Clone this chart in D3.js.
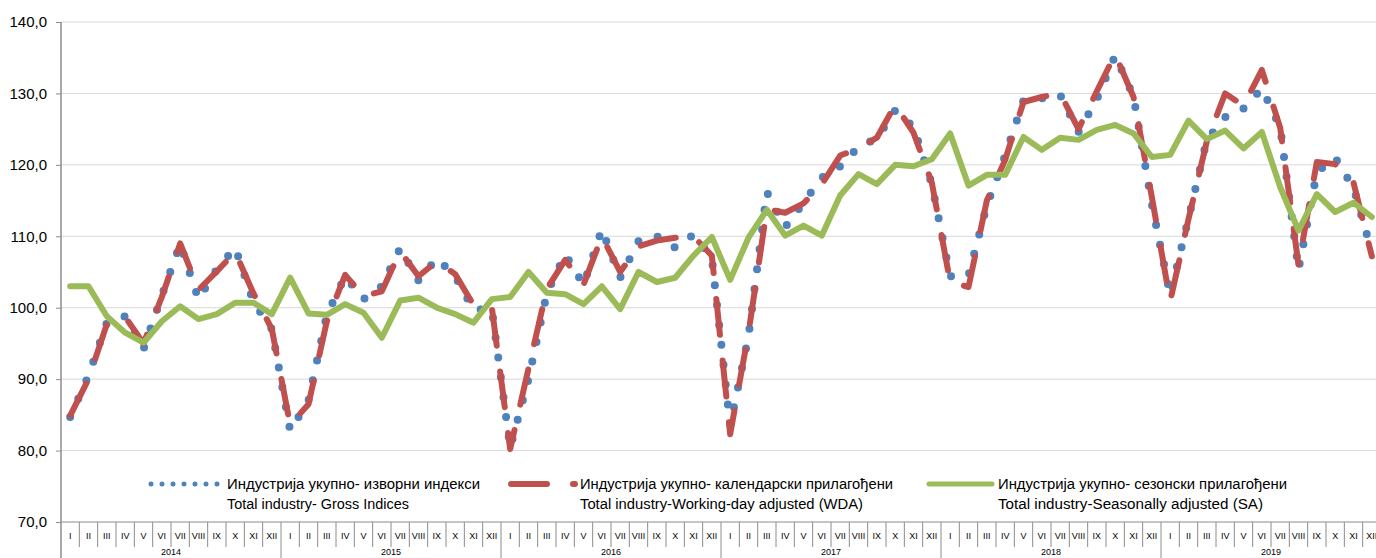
<!DOCTYPE html>
<html>
<head>
<meta charset="utf-8">
<script src="https://cdn.jsdelivr.net/npm/d3@7"></script>
<style>
  body { margin: 0; background: #fff; overflow: hidden; }
  svg { display: block; font-family: "Liberation Sans", Arial, sans-serif; }
</style>
</head>
<body>
<svg id="chart" width="1376" height="558"></svg>
<script>
// --- data ---
const months = ["I", "II", "III", "IV", "V", "VI", "VII", "VIII", "IX", "X", "XI", "XII"];
const years = ["2014", "2015", "2016", "2017", "2018", "2019"];
const yTicks = [70, 80, 90, 100, 110, 120, 130, 140];

// Industrija ukupno - izvorni indeksi (gross)
const gross = [
  84.7, 90.5, 97.9, 98.8, 94.2, 101.7, 108.9, 101.2, 105.4, 108.4, 100.8, 97.0,
  82.8, 87.0, 99.0, 104.4, 101.2, 103.0, 108.3, 103.8, 106.9, 104.4, 99.7, 99.8,
  80.4, 90.0, 102.0, 107.5, 103.2, 111.0, 104.2, 109.3, 110.0, 108.4, 110.2, 107.0,
  83.5, 96.0, 116.2, 111.3, 114.7, 118.2, 119.8, 122.5, 123.7, 127.6, 125.3, 117.3,
  104.4, 104.5, 114.3, 121.3, 129.0, 129.3, 129.8, 124.6, 129.2, 135.3, 129.6, 114.5,
  101.8, 112.5, 123.5, 126.7, 127.9, 130.7, 125.3, 105.3, 119.0, 121.0, 116.8, 107.8
];
// kalendarski prilagodeni (WDA)
const wda = [
  84.9, 90.0, 97.7, 98.7, 95.0, 101.5, 109.0, 102.5, 105.1, 107.8, 102.0, 97.0,
  83.6, 86.5, 98.1, 104.6, 101.6, 102.3, 107.9, 104.4, 106.5, 104.7, 100.4, 100.0,
  80.2, 91.5, 102.6, 106.7, 103.2, 110.0, 105.0, 108.6, 109.4, 109.8, 110.0, 107.3,
  82.3, 96.5, 113.8, 113.3, 114.6, 117.3, 121.3, 122.3, 123.8, 128.4, 124.5, 117.5,
  103.6, 102.9, 115.0, 120.7, 128.8, 129.5, 130.0, 125.0, 130.3, 135.5, 129.5, 115.5,
  100.9, 112.4, 123.3, 130.0, 128.3, 133.3, 125.2, 106.0, 120.4, 120.1, 117.5, 107.2
];
// sezonski prilagodeni (SA)
const sa = [
  103.0, 103.0, 98.8, 96.5, 95.1, 98.1, 100.2, 98.4, 99.1, 100.7, 100.7, 99.1,
  104.2, 99.2, 99.0, 100.5, 99.3, 95.8, 101.0, 101.4, 100.0, 99.1, 97.9, 101.2,
  101.5, 105.0, 102.1, 101.9, 100.5, 103.0, 99.8, 105.0, 103.6, 104.2, 107.3, 109.9,
  103.9, 109.8, 113.7, 110.1, 111.5, 110.1, 115.7, 118.7, 117.3, 120.0, 119.8, 120.8,
  124.4, 117.1, 118.6, 118.6, 123.9, 122.1, 123.8, 123.5, 124.9, 125.6, 124.4, 121.1,
  121.4, 126.2, 123.6, 124.8, 122.3, 124.6, 116.9, 110.8, 115.9, 113.4, 114.7, 112.7
];

const legendItems = [
  { sr: "Индустрија укупно- изворни индекси", en: "Total industry- Gross Indices" },
  { sr: "Индустрија укупно- календарски прилагођени", en: "Total industry-Working-day adjusted (WDA)" },
  { sr: "Индустрија укупно- сезонски прилагођени", en: "Total industry-Seasonally adjusted (SA)" }
];

// --- layout ---
const plotLeft = 61, plotRight = 1381, plotTop = 22, plotBottom = 522;
const svg = d3.select("#chart");
const axisColor = "#8c8c8c";

const x = d3.scaleBand().domain(d3.range(gross.length)).range([plotLeft, plotRight]);
const y = d3.scaleLinear().domain([70, 140]).range([plotBottom, plotTop]);
const cx = i => x(i) + x.bandwidth() / 2;

const styles = [
  { color: "#4f81bd", width: 8, dash: "0 20", cap: "round" },
  { color: "#c0504d", width: 6, dash: "36 26", cap: "round" },
  { color: "#9bbb59", width: 6, dash: null, cap: "round" }
];

// gridlines
svg.append("g")
  .selectAll("line")
  .data(yTicks.filter(v => v > 70))
  .join("line")
  .attr("x1", plotLeft).attr("x2", plotRight)
  .attr("y1", d => y(d)).attr("y2", d => y(d))
  .attr("stroke", "#d9d9d9").attr("stroke-width", 1);

// y axis
const yAxis = svg.append("g")
  .attr("transform", `translate(${plotLeft},0)`)
  .call(d3.axisLeft(y).tickValues(yTicks).tickSize(5).tickSizeOuter(0).tickPadding(9)
    .tickFormat(d => d3.format(".1f")(d).replace(".", ",")));
yAxis.select(".domain").remove();
yAxis.selectAll(".tick line").attr("stroke", axisColor);
yAxis.selectAll(".tick text").attr("font-size", 15).attr("fill", "#000")
  .attr("font-family", "'Liberation Sans', Arial, sans-serif");

// axis lines
svg.append("line").attr("x1", plotLeft).attr("x2", plotLeft).attr("y1", plotTop).attr("y2", 558)
  .attr("stroke", axisColor).attr("stroke-width", 1.5);
svg.append("line").attr("x1", plotLeft).attr("x2", plotRight).attr("y1", plotBottom).attr("y2", plotBottom)
  .attr("stroke", axisColor).attr("stroke-width", 1.2);

// category separators (months short, years long)
svg.append("g")
  .selectAll("line")
  .data(d3.range(1, gross.length + 1))
  .join("line")
  .attr("x1", d => x.step() * d + plotLeft).attr("x2", d => x.step() * d + plotLeft)
  .attr("y1", plotBottom).attr("y2", d => d % 12 === 0 ? 558 : 547)
  .attr("stroke", axisColor).attr("stroke-width", 1);

// month labels
svg.append("g")
  .selectAll("text")
  .data(d3.range(gross.length))
  .join("text")
  .attr("x", d => cx(d)).attr("y", 538.5)
  .attr("text-anchor", "middle").attr("font-size", 9).attr("fill", "#000")
  .text(d => months[d % 12]);

// year labels
svg.append("g")
  .selectAll("text")
  .data(years)
  .join("text")
  .attr("x", (d, i) => (x(i * 12) + x(i * 12 + 11) + x.bandwidth()) / 2)
  .attr("y", 555)
  .attr("text-anchor", "middle").attr("font-size", 9).attr("fill", "#000")
  .text(d => d);

// series
const line = d3.line().x((d, i) => cx(i)).y(d => y(d));
[gross, wda, sa].forEach((series, k) => {
  const s = styles[k];
  svg.append("path")
    .datum(series)
    .attr("d", line)
    .attr("fill", "none")
    .attr("stroke", s.color)
    .attr("stroke-width", s.width)
    .attr("stroke-linecap", s.cap)
    .attr("stroke-linejoin", "round")
    .attr("stroke-dasharray", s.dash);
});

// legend
const legendX = [[151, 219, 227], [511, 575, 580], [929, 992, 998]];
const textWidths = [[253, 182], [313, 283], [289, 265]];
const legendStyles = [
  { color: "#4f81bd", width: 5, dash: "0 11" },
  { color: "#c0504d", width: 6, dash: "36 26" },
  { color: "#9bbb59", width: 5, dash: null }
];
const lg = svg.append("g");
legendItems.forEach((item, k) => {
  const [x0, x1, tx] = legendX[k];
  const s = legendStyles[k];
  lg.append("line")
    .attr("x1", x0).attr("x2", x1).attr("y1", 484).attr("y2", 484)
    .attr("stroke", s.color).attr("stroke-width", s.width)
    .attr("stroke-linecap", "round").attr("stroke-dasharray", s.dash);
  [item.sr, item.en].forEach((t, r) => {
    lg.append("text")
      .attr("x", tx).attr("y", 489 + r * 20)
      .attr("font-size", 14).attr("fill", "#000")
      .attr("textLength", textWidths[k][r]).attr("lengthAdjust", "spacingAndGlyphs")
      .text(t);
  });
});
</script>
</body>
</html>
